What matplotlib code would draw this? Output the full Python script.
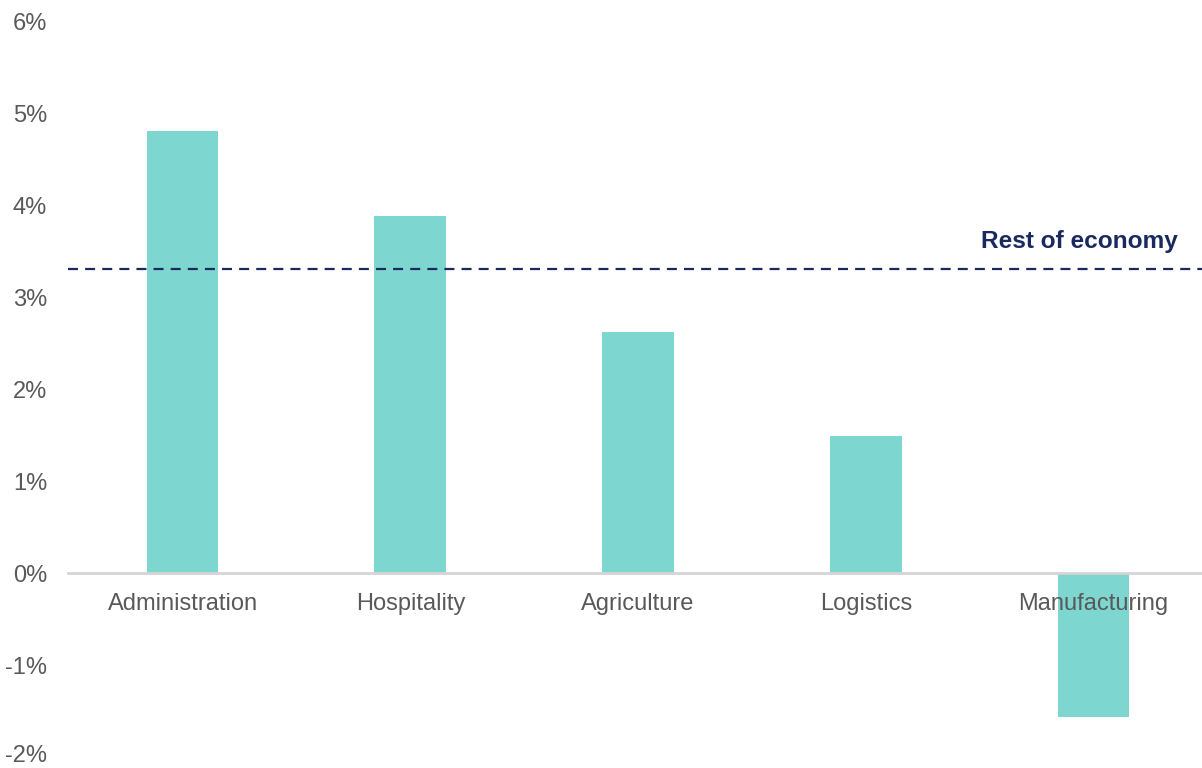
import matplotlib
matplotlib.use("Agg")
import matplotlib.pyplot as plt
import matplotlib.transforms as mtransforms
from matplotlib.ticker import FuncFormatter

plt.rcParams['font.family'] = ['Liberation Sans', 'DejaVu Sans']

sectors = ["Administration", "Hospitality", "Agriculture", "Logistics", "Manufacturing"]
growth = [4.81, 3.89, 2.63, 1.49, -1.56]
rest_of_economy = 3.31
y_ticks = [-2, -1, 0, 1, 2, 3, 4, 5, 6]

bar_color = "#7dd6cf"
line_color = "#1b2a5e"
text_color = "#595959"

fig = plt.figure(figsize=(12.02, 7.68), dpi=100)
ax = fig.add_axes([68 / 1202, 1 - 757 / 768, 1 - 68 / 1202, (757 - 22) / 768])

x = list(range(len(sectors)))
ax.bar(x, growth, width=0.315, color=bar_color, zorder=1)
ax.axhline(rest_of_economy, color=line_color, linewidth=1.6,
           dashes=(4.5, 3.2), zorder=3)
ax.text(4.37, rest_of_economy + 0.18, "Rest of economy", ha="right", va="bottom",
        fontsize=17.6, fontweight="bold", color=line_color)

ax.set_xlim(-0.503, 4.476)
ax.set_ylim(-2, 6)
ax.set_yticks(y_ticks)
ax.yaxis.set_major_formatter(FuncFormatter(lambda v, p: f"{v:.0f}%"))
ax.set_xticks(x)
ax.set_xticklabels(sectors)

for s in ["top", "right", "left"]:
    ax.spines[s].set_visible(False)
ax.spines["bottom"].set_position(("data", 0))
ax.spines["bottom"].set_color("#d4d4d4")
ax.spines["bottom"].set_linewidth(2)
ax.spines["bottom"].set_zorder(2)

ax.tick_params(axis="y", length=0, pad=15, labelsize=17, labelcolor=text_color)
ax.tick_params(axis="x", length=0, pad=14, labelsize=17, labelcolor=text_color)
ax.xaxis.set_zorder(4)

# keep the lowest tick label inside the canvas
lowest = ax.yaxis.get_major_ticks()[0].label1
lowest.set_transform(lowest.get_transform()
                     + mtransforms.ScaledTranslation(0, 4 / 100, fig.dpi_scale_trans))

fig.savefig("out.png", dpi=100)
